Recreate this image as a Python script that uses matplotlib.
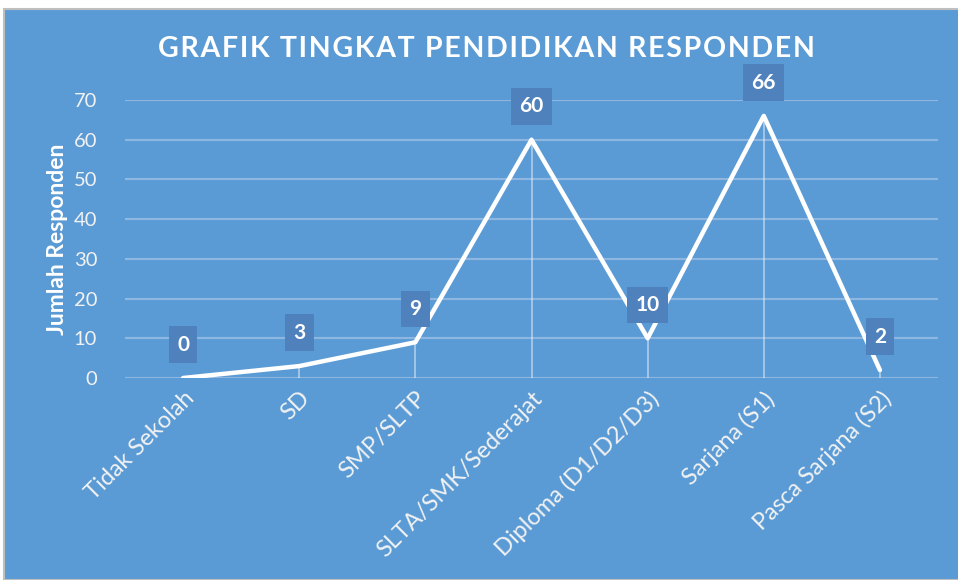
import matplotlib.pyplot as plt
from matplotlib.patches import Rectangle

# data
categories = ['Tidak Sekolah', 'SD', 'SMP/SLTP', 'SLTA/SMK/Sederajat',
              'Diploma (D1/D2/D3)', 'Sarjana (S1)', 'Pasca Sarjana (S2)']
responden = [0, 3, 9, 60, 10, 66, 2]
y_ticks = [0, 10, 20, 30, 40, 50, 60, 70]

BG = '#5B9BD5'
BOX = '#4F81BD'
GRID = '#8DB6E0'
TXT = '#F2F2F2'

plt.rcParams['font.family'] = ['Lato', 'DejaVu Sans']

fig = plt.figure(figsize=(9.58, 5.8), dpi=100)
fig.patch.set_facecolor('white')

# blue chart frame with grey border
fig.patches.append(Rectangle((4 / 958, 0), 1, 571 / 580, transform=fig.transFigure,
                             facecolor=BG, edgecolor='#BFBFBF', linewidth=1.5, zorder=-10))

ax = fig.add_axes([125 / 958, 202 / 580, 813 / 958, 278 / 580])
ax.set_zorder(5)
ax.set_facecolor('none')
x = list(range(len(categories)))
ax.set_xlim(-0.5, len(categories) - 0.5)
ax.set_ylim(0, 70)

# gridlines
for t in y_ticks:
    ax.axhline(t, color=GRID, linewidth=1.5, zorder=1)

# drop lines
ax.vlines(x, 0, responden, colors='white', linewidth=1.2, alpha=0.5, zorder=2)

# main line
ax.plot(x, responden, color='white', linewidth=3.2, solid_capstyle='round',
        solid_joinstyle='round', zorder=3)

# data labels
for xi, v in zip(x, responden):
    ax.annotate(str(v), (xi, v), xytext=(0, 24), textcoords='offset points',
                ha='center', va='center', color='white', fontsize=15, fontweight='bold',
                bbox=dict(boxstyle='square,pad=0.4', facecolor=BOX, edgecolor='none'),
                zorder=4, annotation_clip=False)

ax.set_yticks(y_ticks)
ax.set_xticks(x)
ax.set_xticklabels(categories, rotation=45, ha='right', va='top',
                   rotation_mode='anchor', fontsize=17, color=TXT)
ax.tick_params(axis='y', colors=TXT, labelsize=14.5, length=0, pad=20)
ax.tick_params(axis='x', length=0, pad=7)
for s in ax.spines.values():
    s.set_visible(False)

ax.set_ylabel('Jumlah Responden', color='white', fontsize=16.5, fontweight='bold', labelpad=4)

title = '\u200a'.join('GRAFIK TINGKAT PENDIDIKAN RESPONDEN')
fig.text(486 / 958, 1 - 49 / 580, title, ha='center', va='center',
         color='white', fontsize=20.5, fontweight='bold')

fig.savefig('out.png', dpi=100, facecolor=fig.get_facecolor())
